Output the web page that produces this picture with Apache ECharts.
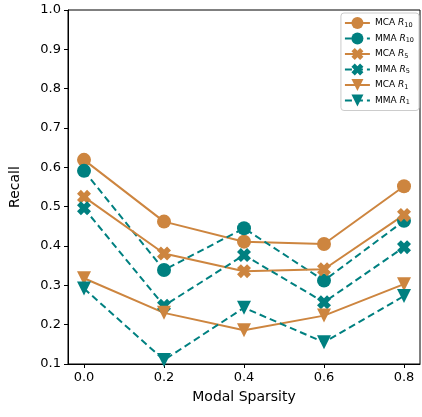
<!DOCTYPE html>
<html>
<head>
<meta charset="utf-8">
<script src="https://cdn.jsdelivr.net/npm/echarts@6/dist/echarts.min.js"></script>
<style>
  html, body { margin: 0; padding: 0; background: #fff; }
  #chart { width: 422px; height: 417px; }
</style>
</head>
<body>
<div id="chart"></div>
<script>
// Recall vs. modal sparsity for MCA and MMA at R1 / R5 / R10
const sparsity = [0.0, 0.2, 0.4, 0.6, 0.8];
const xTicks = [0.0, 0.2, 0.4, 0.6, 0.8];

const mcaR10 = [0.619, 0.462, 0.411, 0.405, 0.552];
const mmaR10 = [0.591, 0.339, 0.445, 0.312, 0.464];
const mcaR5  = [0.525, 0.381, 0.336, 0.341, 0.479];
const mmaR5  = [0.496, 0.248, 0.377, 0.257, 0.397];
const mcaR1  = [0.318, 0.230, 0.186, 0.223, 0.303];
const mmaR1  = [0.292, 0.110, 0.243, 0.155, 0.273];

const ORANGE = '#CD853F';
const TEAL = '#008080';
const FONT = 'DejaVu Sans';

// filled "X" marker
const X_PATH = 'path://M0 28 L28 0 L50 22 L72 0 L100 28 L78 50 L100 72 L72 100 L50 78 L28 100 L0 72 L22 50 Z';

function pairs(ys) { return sparsity.map((x, i) => [x, ys[i]]); }

function makeSeries(name, ys, color, dashed, symbol, size, rotate) {
  return {
    name: name,
    type: 'line',
    data: pairs(ys),
    symbol: symbol,
    symbolSize: size,
    symbolRotate: rotate || 0,
    showAllSymbol: true,
    lineStyle: { color: color, width: 2, type: dashed ? [7, 4] : 'solid' },
    itemStyle: { color: color, borderWidth: 0 },
    emphasis: { disabled: true },
    animation: false
  };
}

const series = [
  makeSeries('MCA R10', mcaR10, ORANGE, false, 'circle', 14),
  makeSeries('MMA R10', mmaR10, TEAL, true, 'circle', 14),
  makeSeries('MCA R5', mcaR5, ORANGE, false, X_PATH, 14),
  makeSeries('MMA R5', mmaR5, TEAL, true, X_PATH, 14),
  makeSeries('MCA R1', mcaR1, ORANGE, false, 'triangle', 14, 180),
  makeSeries('MMA R1', mmaR1, TEAL, true, 'triangle', 14, 180)
];

const legendText = {
  'MCA R10': '{n|MCA }{r|R}{s|10}',
  'MMA R10': '{n|MMA }{r|R}{s|10}',
  'MCA R5': '{n|MCA }{r|R}{s|5}',
  'MMA R5': '{n|MMA }{r|R}{s|5}',
  'MCA R1': '{n|MCA }{r|R}{s|1}',
  'MMA R1': '{n|MMA }{r|R}{s|1}'
};

const chart = echarts.init(document.getElementById('chart'), null, { renderer: 'canvas' });
chart.setOption({
  backgroundColor: '#fff',
  animation: false,
  grid: {
    left: 66, right: 2, top: 10, bottom: 53,
    show: true, borderColor: '#000', borderWidth: 1, backgroundColor: 'transparent'
  },
  xAxis: {
    type: 'value',
    min: -0.04, max: 0.84,
    name: 'Modal Sparsity',
    nameLocation: 'middle',
    nameGap: 26,
    nameTextStyle: { fontFamily: FONT, fontSize: 14, color: '#000' },
    axisLine: { show: true, onZero: false, lineStyle: { color: '#000', width: 1 } },
    axisTick: { show: true, inside: false, length: 4, customValues: xTicks, lineStyle: { color: '#000' } },
    axisLabel: {
      customValues: xTicks,
      formatter: v => v.toFixed(1),
      fontFamily: FONT, fontSize: 13, color: '#000', margin: 7
    },
    splitLine: { show: false }
  },
  yAxis: {
    type: 'value',
    min: 0.1, max: 1.0, interval: 0.1,
    name: 'Recall',
    nameLocation: 'middle',
    nameGap: 46,
    nameRotate: 90,
    nameTextStyle: { fontFamily: FONT, fontSize: 14, color: '#000' },
    axisLine: { show: true, onZero: false, lineStyle: { color: '#000', width: 1 } },
    axisTick: { show: true, inside: false, length: 4, lineStyle: { color: '#000' } },
    axisLabel: {
      formatter: v => v.toFixed(1),
      fontFamily: FONT, fontSize: 13, color: '#000', margin: 7
    },
    splitLine: { show: false }
  },
  legend: {
    orient: 'vertical',
    right: 3,
    top: 13,
    itemWidth: 25,
    itemHeight: 15,
    itemGap: 3.5,
    padding: [4, 5, 4, 3],
    borderColor: '#cccccc',
    borderWidth: 1,
    borderRadius: 3,
    backgroundColor: 'rgba(255,255,255,0.8)',
    data: series.map(s => s.name),
    formatter: name => legendText[name],
    textStyle: {
      fontFamily: FONT, fontSize: 9, color: '#000',
      rich: {
        n: { fontFamily: FONT, fontSize: 9, color: '#000' },
        r: { fontFamily: FONT, fontSize: 9, fontStyle: 'italic', color: '#000' },
        s: { fontFamily: FONT, fontSize: 6.5, color: '#000', padding: [4, 0, 0, 0] }
      }
    }
  },
  series: series
});
</script>
</body>
</html>
